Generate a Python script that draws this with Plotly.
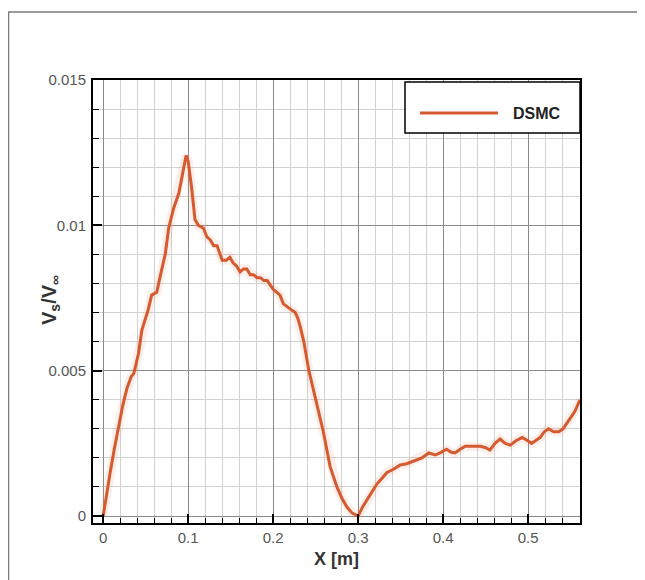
import plotly.graph_objects as go

x_m = [0.0, 0.004, 0.0082, 0.013, 0.018, 0.023, 0.028, 0.033, 0.036, 0.0416, 0.0455, 0.049,
       0.053, 0.057, 0.063, 0.069, 0.073, 0.077, 0.083, 0.089, 0.0935, 0.0975, 0.100, 0.104,
       0.108, 0.112, 0.118, 0.122, 0.126, 0.130, 0.134, 0.140, 0.145, 0.149, 0.153, 0.157,
       0.161, 0.165, 0.169, 0.173, 0.177, 0.181, 0.185, 0.189, 0.193, 0.197, 0.200, 0.204,
       0.208, 0.212, 0.216, 0.221, 0.226, 0.229, 0.232, 0.236, 0.242, 0.251, 0.259, 0.267,
       0.275, 0.281, 0.287, 0.293, 0.300, 0.305, 0.310, 0.316, 0.322, 0.328, 0.334, 0.341,
       0.349, 0.357, 0.365, 0.375, 0.383, 0.391, 0.398, 0.404, 0.409, 0.414, 0.420, 0.426,
       0.432, 0.438, 0.444, 0.450, 0.455, 0.461, 0.467, 0.473, 0.479, 0.486, 0.493, 0.499,
       0.504, 0.509, 0.514, 0.519, 0.524, 0.530, 0.536, 0.541, 0.546, 0.551, 0.555, 0.561]
vs_dsmc = [0.0, 0.0008, 0.0015, 0.0023, 0.0031, 0.0038, 0.0044, 0.0048, 0.0049, 0.0056, 0.0064, 0.0067,
           0.0071, 0.0076, 0.0077, 0.0085, 0.0090, 0.0099, 0.0106, 0.0111, 0.0118, 0.0124, 0.0122, 0.0113,
           0.0102, 0.0100, 0.0099, 0.0096, 0.0095, 0.0093, 0.0093, 0.0088, 0.0088, 0.0089, 0.0087, 0.0086,
           0.0084, 0.0085, 0.0085, 0.0083, 0.0083, 0.0082, 0.0082, 0.0081, 0.0081, 0.0079, 0.0078, 0.0077,
           0.0076, 0.0073, 0.0072, 0.0071, 0.0070, 0.0068, 0.0065, 0.0060, 0.0050, 0.0039, 0.0029, 0.0017,
           0.0010, 0.0006, 0.0003, 0.0001, 0.0000, 0.0003, 0.00055, 0.0008, 0.0011, 0.0013, 0.0015, 0.0016,
           0.00175, 0.0018, 0.0019, 0.0020, 0.00217, 0.0021, 0.0022, 0.0023, 0.0022, 0.00217, 0.0023, 0.0024,
           0.0024, 0.0024, 0.0024, 0.00235, 0.00227, 0.0025, 0.00265, 0.0025, 0.00244, 0.0026, 0.0027, 0.0026,
           0.0025, 0.0026, 0.0027, 0.0029, 0.0030, 0.0029, 0.0029, 0.0030, 0.0032, 0.0034, 0.0036, 0.0040]

x_ticks = [0, 0.1, 0.2, 0.3, 0.4, 0.5]
x_tick_labels = ["0", "0.1", "0.2", "0.3", "0.4", "0.5"]
y_ticks = [0, 0.005, 0.01, 0.015]
y_tick_labels = ["0", "0.005", "0.01", "0.015"]
series_name = "DSMC"

LINE = "#d65a2f"
FONT = "Liberation Sans, Arial, sans-serif"

fig = go.Figure()
# faint halo of scatter around the curve
fig.add_trace(go.Scatter(x=x_m, y=vs_dsmc, mode="lines",
                         line=dict(color="rgba(235,140,110,0.15)", width=9),
                         hoverinfo="skip", showlegend=False))
fig.add_trace(go.Scatter(x=x_m, y=vs_dsmc, mode="lines", name=series_name,
                         line=dict(color=LINE, width=3), showlegend=False))

axis_common = dict(
    showline=True, linecolor="black", linewidth=2, mirror=True,
    ticks="inside", ticklen=9, tickwidth=2, tickcolor="black",
    showgrid=True, gridcolor="#8a8a8a", gridwidth=1, zeroline=False,
    tickfont=dict(family=FONT, size=15, color="#555555"),
)

fig.update_xaxes(range=[-0.012, 0.561], tickvals=x_ticks, ticktext=x_tick_labels,
                 minor=dict(dtick=0.02, tick0=0, showgrid=True, gridcolor="#d2d2d2",
                            ticks="inside", ticklen=5, tickcolor="black", tickwidth=1),
                 **axis_common)
fig.update_yaxes(range=[-0.00024, 0.015], tickvals=y_ticks, ticktext=y_tick_labels,
                 minor=dict(dtick=0.001, tick0=0, showgrid=True, gridcolor="#d2d2d2",
                            ticks="inside", ticklen=6, tickcolor="black", tickwidth=1),
                 ticklabelstandoff=2,
                 **axis_common)

# page body has an 8px margin, so the figure is offset by 8px in the browser
OFF = 8
W, H = 645 - OFF, 580 - OFF
L, T = 93 - OFF, 80 - OFF
pw, ph = 487, 443
R, B = W - L - pw, H - T - ph


def px(xp):
    return (xp - OFF - L) / pw


def py(yp):
    return (T + ph - (yp - OFF)) / ph


shapes = [
    # outer frame lines
    dict(type="line", xref="paper", yref="paper", x0=px(8), x1=px(645), y0=py(12), y1=py(12),
         line=dict(color="#7a7a7a", width=1.5)),
    dict(type="line", xref="paper", yref="paper", x0=px(8.5), x1=px(8.5), y0=py(12), y1=py(580),
         line=dict(color="#7a7a7a", width=1.5)),
    # legend box
    dict(type="rect", xref="paper", yref="paper", x0=px(405), x1=px(580), y0=py(133), y1=py(82),
         fillcolor="white", line=dict(color="black", width=1.5), layer="above"),
    dict(type="line", xref="paper", yref="paper", x0=px(420), x1=px(498), y0=py(113), y1=py(113),
         line=dict(color=LINE, width=3), layer="above"),
]

annotations = [
    dict(text="<b>" + series_name + "</b>", xref="paper", yref="paper", x=px(511), y=py(113),
         xanchor="left", yanchor="middle", showarrow=False,
         font=dict(family=FONT, size=16, color="#222222")),
    dict(text="<b>X [m]</b>", xref="paper", yref="paper", x=px(336), y=py(559),
         xanchor="center", yanchor="middle", showarrow=False,
         font=dict(family=FONT, size=18, color="#333333")),
    dict(text="<b>V<sub>s</sub>/V<sub>∞</sub></b>", xref="paper", yref="paper", x=px(50), y=py(300),
         xanchor="center", yanchor="middle", showarrow=False, textangle=-90,
         font=dict(family=FONT, size=20, color="#333333")),
]

fig.update_layout(
    width=W, height=H,
    margin=dict(l=L, r=R, t=T, b=B),
    paper_bgcolor="white", plot_bgcolor="white",
    shapes=shapes, annotations=annotations,
    showlegend=False,
)

fig.write_html("out.html")
